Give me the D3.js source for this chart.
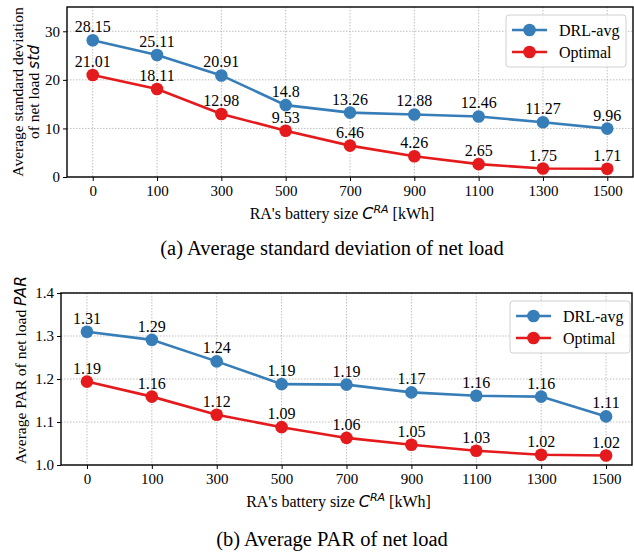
<!DOCTYPE html>
<html>
<head>
<meta charset="utf-8">
<script src="https://cdn.jsdelivr.net/npm/d3@7"></script>
<style>
body { margin: 0; background: #fff; }
text { font-family: "Liberation Serif", "Times New Roman", serif; }
.math { font-family: "DejaVu Sans", sans-serif; font-style: italic; }
</style>
</head>
<body>
<div id="chart"></div>
<script>
// battery sizes (x categories)
var sizes = ['0', '100', '300', '500', '700', '900', '1100', '1300', '1500'];

// (a) average std of net load
var stdDRL = [28.15, 25.11, 20.91, 14.8, 13.26, 12.88, 12.46, 11.27, 9.96];
var stdOpt = [21.01, 18.11, 12.98, 9.53, 6.46, 4.26, 2.65, 1.75, 1.71];
var stdTicks = [0, 10, 20, 30];

// (b) average PAR of net load
var parDRL = [1.310, 1.291, 1.241, 1.188, 1.187, 1.169, 1.161, 1.159, 1.113];
var parOpt = [1.194, 1.159, 1.117, 1.088, 1.063, 1.047, 1.033, 1.024, 1.022];
var parTicks = [1.0, 1.1, 1.2, 1.3, 1.4];

var seriesNames = ['DRL-avg', 'Optimal'];
var colors = ['#377eb8', '#e41a1c'];

var svg = d3.select('#chart').append('svg').attr('width', 634).attr('height', 555);

function drawPanel(p){
	var g = svg.append('g');
	var x = d3.scalePoint().domain(sizes).range([p.left, p.right]).padding(0.4);
	var y = d3.scaleLinear().domain(p.ydomain).range([p.bottom, p.top]);

	// grid
	g.selectAll('.gx').data(sizes).enter().append('line')
		.attr('x1', function(d){ return x(d); }).attr('x2', function(d){ return x(d); })
		.attr('y1', p.top).attr('y2', p.bottom)
		.attr('stroke', '#b0b0b0').attr('stroke-width', 0.8).attr('stroke-dasharray', '1.5,1.5');
	g.selectAll('.gy').data(p.ticks).enter().append('line')
		.attr('x1', p.left).attr('x2', p.right)
		.attr('y1', function(d){ return y(d); }).attr('y2', function(d){ return y(d); })
		.attr('stroke', '#b0b0b0').attr('stroke-width', 0.8).attr('stroke-dasharray', '1.5,1.5');

	// axes
	var xAxis = g.append('g').attr('transform', 'translate(0,' + p.bottom + ')')
		.call(d3.axisBottom(x).tickSize(4).tickPadding(4));
	var yAxis = g.append('g').attr('transform', 'translate(' + p.left + ',0)')
		.call(d3.axisLeft(y).tickValues(p.ticks).tickFormat(p.tickFormat).tickSize(4).tickPadding(3));
	[xAxis, yAxis].forEach(function(a){
		a.select('.domain').remove();
		a.selectAll('text').attr('font-family', '"Liberation Serif", serif').attr('font-size', 15).attr('fill', '#000');
		a.selectAll('line').attr('stroke', '#000').attr('stroke-width', 1);
	});

	// frame
	g.append('rect').attr('x', p.left).attr('y', p.top)
		.attr('width', p.right - p.left).attr('height', p.bottom - p.top)
		.attr('fill', 'none').attr('stroke', '#000').attr('stroke-width', 1.4);

	// lines + markers + value labels
	var line = d3.line().x(function(d, i){ return x(sizes[i]); }).y(function(d){ return y(d); });
	p.series.forEach(function(vals, k){
		g.append('path').datum(vals).attr('d', line)
			.attr('fill', 'none').attr('stroke', colors[k]).attr('stroke-width', 2.6);
		g.selectAll('.m' + k).data(vals).enter().append('circle')
			.attr('cx', function(d, i){ return x(sizes[i]); })
			.attr('cy', function(d){ return y(d); })
			.attr('r', 6.3).attr('fill', colors[k]);
		g.selectAll('.l' + k).data(vals).enter().append('text')
			.attr('x', function(d, i){ return x(sizes[i]); })
			.attr('y', function(d){ return y(d) - 8; })
			.attr('text-anchor', 'middle').attr('font-size', 16)
			.text(p.valueFormat);
	});

	// legend
	var lw = 120, lh = 52;
	var lx = p.legendX, ly = p.top + 8;
	var leg = g.append('g').attr('transform', 'translate(' + lx + ',' + ly + ')');
	leg.append('rect').attr('width', lw).attr('height', lh).attr('rx', 3)
		.attr('fill', '#fff').attr('fill-opacity', 0.8).attr('stroke', '#d0d0d0');
	seriesNames.forEach(function(n, k){
		var yy = 15 + k * 22;
		leg.append('line').attr('x1', 6).attr('x2', 41).attr('y1', yy).attr('y2', yy)
			.attr('stroke', colors[k]).attr('stroke-width', 2.6);
		leg.append('circle').attr('cx', 23.5).attr('cy', yy).attr('r', 6.3).attr('fill', colors[k]);
		leg.append('text').attr('x', 53).attr('y', yy + 5.5).attr('font-size', 16).text(n);
	});

	// y label
	var yl = g.append('text').attr('transform', 'translate(' + p.ylabelX + ',' + p.ylabelY + ') rotate(-90)')
		.attr('text-anchor', 'middle').attr('font-size', 15.5);
	p.ylabel(yl);

	// x label
	var xl = g.append('text').attr('x', (p.left + p.right) / 2 - 8).attr('y', p.bottom + 42)
		.attr('text-anchor', 'middle').attr('font-size', 16);
	xl.append('tspan').text("RA's battery size ");
	xl.append('tspan').attr('class', 'math').text('C');
	xl.append('tspan').attr('class', 'math').attr('font-size', 11).attr('dy', -6).text('RA');
	xl.append('tspan').attr('dy', 6).text(' [kWh]');

	// caption
	g.append('text').attr('x', 332).attr('y', p.captionY).attr('text-anchor', 'middle')
		.attr('font-size', 20.5).text(p.caption);
}

drawPanel({
	left: 67, right: 633, top: 7, bottom: 177,
	ydomain: [0, 35], ticks: stdTicks,
	tickFormat: d3.format('d'),
	valueFormat: function(d){ return String(d); },
	series: [stdDRL, stdOpt],
	legendX: 506,
	ylabelX: 0, ylabelY: 92,
	ylabel: function(t){
		t.append('tspan').attr('x', 0).attr('y', 23).text('Average standard deviation');
		var s = t.append('tspan').attr('x', 0).attr('y', 39);
		s.text('of net load ');
		t.append('tspan').attr('class', 'math').text('std');
	},
	caption: '(a) Average standard deviation of net load',
	captionY: 255
});

drawPanel({
	left: 61, right: 632, top: 293, bottom: 465,
	ydomain: [1.0, 1.4], ticks: parTicks,
	tickFormat: d3.format('.1f'),
	valueFormat: d3.format('.2f'),
	series: [parDRL, parOpt],
	legendX: 510,
	ylabelX: 26, ylabelY: 370,
	ylabel: function(t){
		t.append('tspan').text('Average PAR of net load ');
		t.append('tspan').attr('class', 'math').text('PAR');
	},
	caption: '(b) Average PAR of net load',
	captionY: 546
});
</script>
</body>
</html>
